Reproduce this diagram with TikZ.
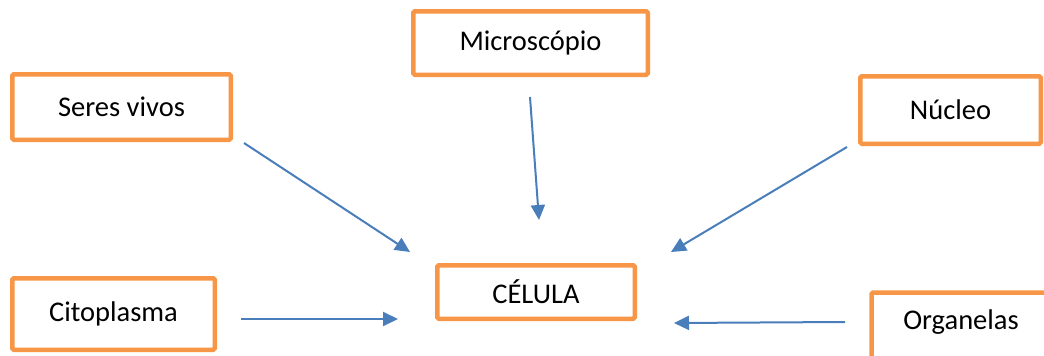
\documentclass[tikz,border=0pt]{standalone}
\usepackage{fontspec}
\setmainfont{Carlito}
\usetikzlibrary{arrows.meta}
\definecolor{boxorange}{HTML}{F79646}
\definecolor{linkblue}{HTML}{4A7EBB}
\tikzset{
  concept/.style={draw=boxorange, line width=4.5pt, rounded corners=1.5pt,
    fill=white, inner sep=0pt, font=\fontsize{28.5}{34}\selectfont},
  label/.style={inner sep=0pt, font=\fontsize{28.5}{34}\selectfont},
  link/.style={draw=linkblue, line width=2pt,
    -{Triangle[length=15pt,width=14pt]}}
}
\begin{document}
\begin{tikzpicture}[x=1pt,y=-1pt]
  \useasboundingbox (0,0) rectangle (1044,356);
  \clip (0,0) rectangle (1044,356);

  % concept boxes
  \node[concept, minimum width=218.5pt, minimum height=65.5pt] (seres) at (121.5,107) {Seres vivos};
  \node[concept, minimum width=234.5pt, minimum height=63.5pt] (micro) at (530.5,43) {Microscópio};
  \node[concept, minimum width=180.5pt, minimum height=67.5pt] (nucleo) at (950.5,110) {Núcleo};
  \node[concept, minimum width=197.5pt, minimum height=53.5pt] (celula) at (536,292) {CÉLULA};
  \node[concept, minimum width=202.5pt, minimum height=71.5pt] (cito) at (113.5,314) {Citoplasma};
  % this box runs past the right and bottom edges of the page
  \node[concept, anchor=north west, minimum width=220pt, minimum height=100pt]
    (organbox) at (869.25,290.25) {};
  \node[label] (organ) at (961,322) {Organelas};

  % arrow ends
  \coordinate (s1) at (244,143);  \coordinate (e1) at (410,252);
  \coordinate (s2) at (530,97);   \coordinate (e2) at (539,220);
  \coordinate (s3) at (847,147);  \coordinate (e3) at (671,252);
  \coordinate (s4) at (241,319);  \coordinate (e4) at (398,319);
  \coordinate (s5) at (845,322);  \coordinate (e5) at (674,323);

  \draw[link] (s1) -- (e1);
  \draw[link] (s2) -- (e2);
  \draw[link] (s3) -- (e3);
  \draw[link] (s4) -- (e4);
  \draw[link] (s5) -- (e5);
\end{tikzpicture}
\end{document}
